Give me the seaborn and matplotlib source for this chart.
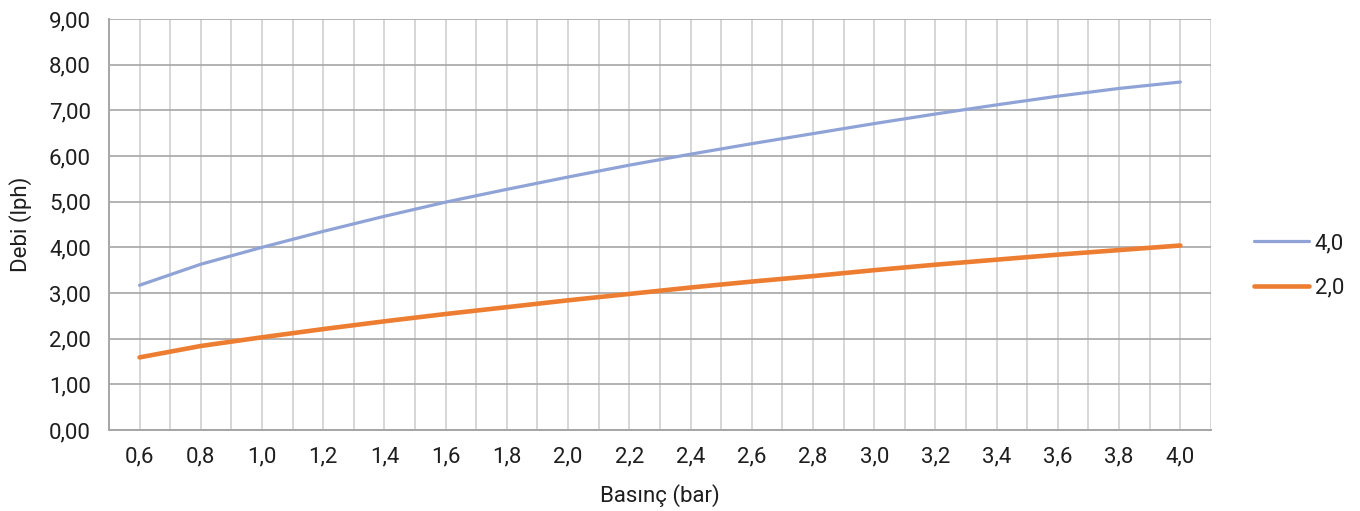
import seaborn as sns
import pandas as pd
import numpy as np
import matplotlib
matplotlib.use("Agg")
import matplotlib.pyplot as plt

pressure = ["0,6", "0,8", "1,0", "1,2", "1,4", "1,6", "1,8", "2,0", "2,2",
            "2,4", "2,6", "2,8", "3,0", "3,2", "3,4", "3,6", "3,8", "4,0"]
flow_40 = [3.17, 3.63, 4.00, 4.35, 4.68, 4.99, 5.27, 5.54, 5.80,
           6.04, 6.27, 6.49, 6.71, 6.92, 7.12, 7.31, 7.48, 7.62]
flow_20 = [1.59, 1.84, 2.03, 2.21, 2.38, 2.54, 2.69, 2.84, 2.98,
           3.12, 3.25, 3.37, 3.50, 3.62, 3.73, 3.84, 3.94, 4.04]
series = ["4,0", "2,0"]
colors = {"4,0": "#8FA3D6", "2,0": "#ED7D31"}

df = pd.concat([
    pd.DataFrame({"pos": range(len(pressure)), "flow": flow_40, "series": "4,0"}),
    pd.DataFrame({"pos": range(len(pressure)), "flow": flow_20, "series": "2,0"}),
], ignore_index=True)

sns.set_style("white")
plt.rcParams["font.family"] = ["Roboto", "DejaVu Sans"]
fs = 16
txt = "#1E1E1E"

fig = plt.figure(figsize=(13.6, 5.11), dpi=100)
ax = fig.add_axes([0.0801, 0.1585, 0.8103, 0.8043])

sns.lineplot(data=df, x="pos", y="flow", hue="series", hue_order=series,
             palette=colors, ax=ax, legend=False)
ax.lines[0].set_linewidth(2.3)
ax.lines[1].set_linewidth(3.3)

n = len(pressure)
ax.set_xlim(-0.5, n - 0.5)
ax.set_ylim(0, 9)

# boundaries carry tick marks, centres carry labels
ax.set_xticks(np.arange(-0.5, n, 1.0))
ax.set_xticklabels([])
ax.set_xticks(range(n), minor=True)
ax.set_xticklabels(pressure, minor=True)
ax.tick_params(axis="x", which="major", length=7, width=1.2, color="#A6A6A6", direction="out")
ax.tick_params(axis="x", which="minor", length=0, pad=12, labelsize=fs, labelcolor=txt)

ax.set_yticks(np.arange(0, 10, 1))
ax.set_yticklabels([f"{v:.2f}".replace(".", ",") for v in np.arange(0, 10, 1)])
ax.tick_params(axis="y", length=7, width=1.2, color="#A6A6A6", direction="out",
               labelsize=fs, labelcolor=txt, pad=6)

ax.grid(True, axis="x", which="both", color="#D0D0D0", linewidth=1.2)
ax.grid(True, axis="y", which="major", color="#A6A6A6", linewidth=1.2)
ax.set_axisbelow(True)

for side in ["top", "right"]:
    ax.spines[side].set_visible(False)
for side in ["left", "bottom"]:
    ax.spines[side].set_color("#A6A6A6")
    ax.spines[side].set_linewidth(1.4)

ax.set_xlabel("Basınç (bar)", fontsize=fs, color=txt, labelpad=12)
ax.set_ylabel("Debi (lph)", fontsize=fs, color=txt, labelpad=12)

handles = [plt.Line2D([], [], color=colors["4,0"], linewidth=2.3),
           plt.Line2D([], [], color=colors["2,0"], linewidth=3.3)]
fig.legend(handles, series, loc="center left", bbox_to_anchor=(0.9075, 0.48),
           frameon=False, fontsize=fs, handlelength=2.45, handletextpad=0.27,
           labelspacing=1.05, labelcolor=txt)

plt.savefig("out.png", dpi=100)
